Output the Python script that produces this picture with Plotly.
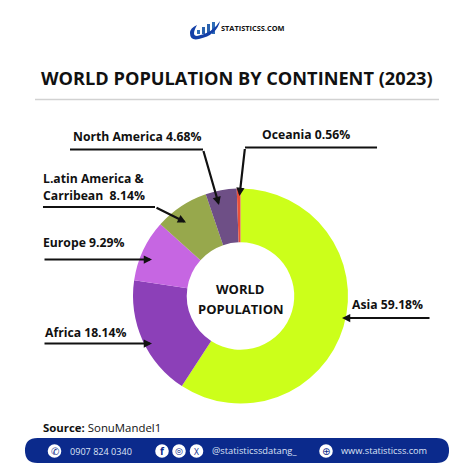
import plotly.graph_objects as go

continents = ["Asia", "Africa", "Europe", "Latin America & Carribean", "North America", "Oceania"]
shares = [59.18, 18.14, 9.29, 8.14, 4.68, 0.56]
slice_colors = ["#CCFF1A", "#8C40B8", "#C666E2", "#97A84C", "#6E4F86", "#E9503A"]

title_text = "WORLD POPULATION BY CONTINENT (2023)"
center_lines = ["WORLD", "POPULATION"]
source_name = "SonuMandel1"
phone = "0907 824 0340"
handle = "@statisticssdatang_"
website = "www.statisticss.com"
brand = "STATISTICSS.COM"

S = 474.0
INK = "#111111"
NAVY = "#0B2A8C"
FONT = "Open Sans"


def X(p):
    return p / S


def Y(p):
    return 1 - p / S


def path(points):
    return "M " + " L ".join(f"{X(a):.4f},{Y(b):.4f}" for a, b in points)


shapes = []
annotations = []


def text(x, y, s, size, anchor="left", color=INK, bold=True, family=FONT):
    label = f"<b>{s}</b>" if bold else s
    annotations.append(dict(x=X(x), y=Y(y), xref="paper", yref="paper", text=label, showarrow=False,
                            xanchor=anchor, yanchor="middle", align=anchor, borderpad=0, borderwidth=0,
                            font=dict(family=family, size=size, color=color)))


def arrow(points):
    if len(points) > 2:
        shapes.append(dict(type="path", xref="paper", yref="paper", path=path(points[:-1]),
                           line=dict(color=INK, width=2.2)))
    (x0, y0), (x1, y1) = points[-2], points[-1]
    annotations.append(dict(x=X(x1), y=Y(y1), xref="paper", yref="paper", showarrow=True, text="",
                            ax=x0 - x1, ay=y0 - y1, axref="pixel", ayref="pixel",
                            arrowhead=2, arrowsize=0.75, arrowwidth=2.2, arrowcolor=INK))


def circle(cx, cy, r, fill):
    shapes.append(dict(type="circle", xref="paper", yref="paper",
                       x0=X(cx - r), x1=X(cx + r), y0=Y(cy + r), y1=Y(cy - r),
                       fillcolor=fill, line=dict(width=0)))


def rect(x0, y0, x1, y1, fill):
    shapes.append(dict(type="rect", xref="paper", yref="paper", x0=X(x0), x1=X(x1), y0=Y(y1), y1=Y(y0),
                       fillcolor=fill, line=dict(width=0)))


# logo
for bx, top, col in [(197, 30, "#2E6DB8"), (202, 27, "#2A62AE"), (207, 24, "#2A62AE"), (212, 22, "#2E6DB8")]:
    rect(bx, top, bx + 3, 34, col)
shapes.append(dict(type="path", xref="paper", yref="paper", fillcolor="#1440A8", line=dict(width=0),
                   path=f"M {X(190):.4f},{Y(33):.4f} Q {X(190):.4f},{Y(41):.4f} {X(199):.4f},{Y(39):.4f} "
                        f"Q {X(217):.4f},{Y(35):.4f} {X(220):.4f},{Y(21):.4f} "
                        f"Q {X(213):.4f},{Y(33):.4f} {X(197):.4f},{Y(36):.4f} "
                        f"Q {X(191):.4f},{Y(36):.4f} {X(197):.4f},{Y(25):.4f} Q {X(190):.4f},{Y(28):.4f} {X(190):.4f},{Y(33):.4f} Z"))
text(221, 28.5, brand, 7.4)

# heading and rule
text(237, 78, title_text, 18.2, anchor="center")
shapes.append(dict(type="line", xref="paper", yref="paper", x0=X(35), x1=X(439), y0=Y(99.5), y1=Y(99.5),
                   line=dict(color="#D2D2D2", width=1.5)))

# callouts
text(73, 136, f"{continents[4]} {shares[4]:.2f}%", 12.2)
text(262, 135, f"{continents[5]} {shares[5]:.2f}%", 12.2)
text(43, 178, "L.atin America &", 12.2)
text(43, 195, f"Carribean  {shares[3]:.2f}%", 12.2)
text(43, 243, f"{continents[2]} {shares[2]:.2f}%", 12.2)
text(45, 332, f"{continents[1]} {shares[1]:.2f}%", 12.2)
text(352, 304, f"{continents[0]} {shares[0]:.2f}%", 12.2)

arrow([(70, 149.5), (203, 149.5), (219, 205)])
arrow([(43, 207), (155, 207), (186, 222.5)])
arrow([(43, 259.5), (152, 259.5)])
arrow([(43, 343.5), (152, 343.5)])
arrow([(377, 147.5), (245, 147.5), (239.5, 196)])
arrow([(431, 318), (342, 318)])

# centre of the ring
text(240, 289, center_lines[0], 13, anchor="center")
text(241, 309, center_lines[1], 13, anchor="center")

# source line
annotations.append(dict(x=X(43), y=Y(427), xref="paper", yref="paper", showarrow=False, xanchor="left",
                        yanchor="middle", borderpad=0, borderwidth=0, text=f"<b>Source:</b> {source_name}",
                        font=dict(family=FONT, size=11.4, color=INK)))

# footer band
fx0, fx1, fy0, fy1, r = 25, 449, 438, 463, 12.5
shapes.append(dict(type="path", xref="paper", yref="paper", fillcolor=NAVY, line=dict(width=0),
                   path=f"M {X(fx0 + r):.4f},{Y(fy0):.4f} L {X(fx1 - r):.4f},{Y(fy0):.4f} "
                        f"Q {X(fx1):.4f},{Y(fy0):.4f} {X(fx1):.4f},{Y(fy0 + r):.4f} "
                        f"Q {X(fx1):.4f},{Y(fy1):.4f} {X(fx1 - r):.4f},{Y(fy1):.4f} "
                        f"L {X(fx0 + r):.4f},{Y(fy1):.4f} "
                        f"Q {X(fx0):.4f},{Y(fy1):.4f} {X(fx0):.4f},{Y(fy0 + r):.4f} "
                        f"Q {X(fx0):.4f},{Y(fy0):.4f} {X(fx0 + r):.4f},{Y(fy0):.4f} Z"))
for cx in [54.5, 162, 179, 196.5, 326]:
    circle(cx, 451, 6.8, "white")
text(54.5, 451, "✆", 10, anchor="center", color=NAVY, bold=False, family="DejaVu Sans")
text(162, 451, "f", 10, anchor="center", color=NAVY)
text(179, 451, "◎", 9, anchor="center", color=NAVY, bold=False, family="DejaVu Sans")
text(196.5, 451, "X", 8.5, anchor="center", color=NAVY, bold=False)
text(326, 451, "⊕", 10, anchor="center", color=NAVY, bold=False, family="DejaVu Sans")
text(70, 451.5, phone, 9.1, color="#DDE3F5", bold=False)
text(212, 450.5, handle, 9.3, color="#DDE3F5", bold=False)
text(341, 450.5, website, 9.2, color="#DDE3F5", bold=False)

fig = go.Figure(go.Pie(labels=continents, values=shares, hole=0.5, sort=False, direction="clockwise",
                       rotation=0, textinfo="none", hoverinfo="skip",
                       marker=dict(colors=slice_colors, line=dict(width=0)),
                       domain=dict(x=[X(133), X(348)], y=[Y(403.5), Y(188.5)])))
fig.update_layout(width=474, height=474, margin=dict(l=0, r=0, t=0, b=0), showlegend=False,
                  paper_bgcolor="white", plot_bgcolor="white", shapes=shapes, annotations=annotations,
                  font=dict(family=FONT))
fig.write_html("out.html", config=dict(displayModeBar=False),
               post_script="document.body.style.margin='0';document.documentElement.style.overflow='hidden';")
